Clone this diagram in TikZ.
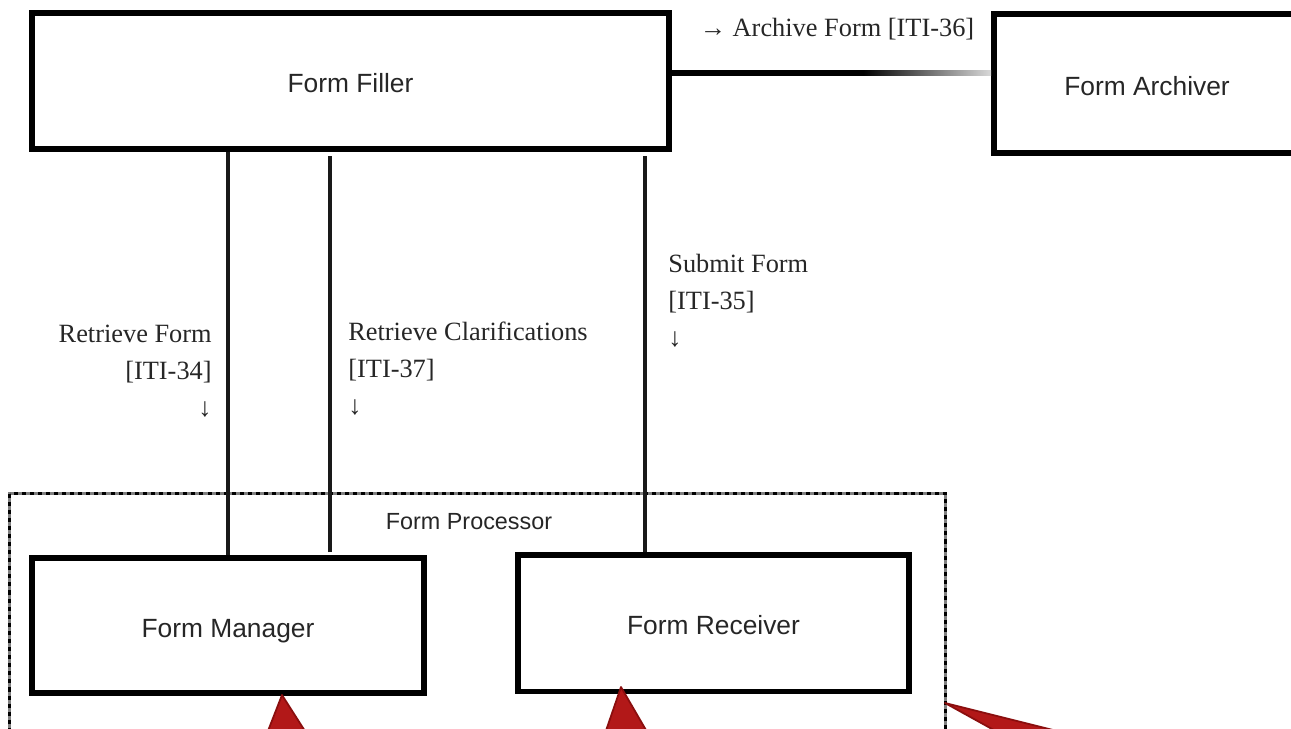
\documentclass[tikz,border=0pt]{standalone}
\usepackage{fontspec}
\setmainfont{Liberation Serif}
\newfontfamily\boxfont{Liberation Sans}
\usetikzlibrary{calc}
\definecolor{calloutred}{RGB}{178,24,24}
\definecolor{calloutedge}{RGB}{138,14,14}
\pgfdeclarehorizontalshading{archfade}{100bp}{color(0bp)=(black); color(25bp)=(black); color(55bp)=(black); color(75bp)=(black!15); color(100bp)=(black!15)}

\begin{document}
\begin{tikzpicture}[x=0.02cm, y=-0.02cm,
  actor/.style={draw, line width=3.4pt, font=\boxfont\fontsize{15}{18}\selectfont, text=black!85, text height=15pt, text depth=1.5pt},
  link/.style={line width=2.3pt, black!90},
  edgelabel/.style={inner sep=0pt, font=\fontsize{15}{21}\selectfont, text=black!85},
  callout/.style={fill=calloutred, draw=calloutedge, line width=1pt, line join=round}]
\useasboundingbox (0,0) rectangle (1291,728);
\clip (0,0) rectangle (1291,728);

% Draw the actors
\node (filler) [actor, minimum width=12.74cm, minimum height=2.72cm] at (350.5,81) {Form Filler};
\node (archiver) [actor, minimum width=6.12cm, minimum height=2.78cm] at (1147,83.5) {Form Archiver};
\node (manager) [actor, minimum width=7.84cm, minimum height=2.7cm] at (228,625.5) {Form Manager};
\node (receiver) [actor, minimum width=7.84cm, minimum height=2.74cm] at (713.5,623) {Form Receiver};

% Draw the grouping box
\draw[gray, line width=1.7pt] (9.5,493.5) rectangle (945.5,790);
\draw[black, line width=1.7pt, dash pattern=on 2.3pt off 2.3pt] (9.5,493.5) rectangle (945.5,790);
\node (processor) [font=\boxfont\fontsize{13.3}{16}\selectfont, text=black!85] at (469,522) {Form Processor};

% Draw the transactions
\draw[link] (manager.north) -- (manager.north |- filler.south);
\draw[link, shorten <=1.7pt, shorten >=2.3pt] ($(manager.north)+(102,0)$) -- ($(manager.north |- filler.south)+(102,0)$);
\draw[link, shorten >=2.3pt] ($(receiver.north)+(-68.5,0)$) -- ($(receiver.north |- filler.south)+(-68.5,0)$);
\shade[shading=archfade] ($(filler.east)+(0,-10.5)$) rectangle ($(archiver.west |- filler.east)+(0,-5.5)$);
\path ($(filler.east)+(0,-8)$) -- ($(archiver.west |- filler.east)+(0,-8)$)
  node (lblArchive) [edgelabel, midway, above=0.66cm, xshift=0.11cm] {→ Archive Form [ITI-36]};

% Transaction labels
\node (lblRetrieve) [edgelabel, anchor=north east, align=right] at (212,325) {Retrieve Form\\{}[ITI-34]\\↓};
\node (lblClarify) [edgelabel, anchor=north west, align=left] at (348,322) {Retrieve Clarifications\\{}[ITI-37]\\↓};
\node (lblSubmit) [edgelabel, anchor=north west, align=left] at (668,254) {Submit Form\\{}[ITI-35]\\↓};

% Draw the callout pointers
\path[callout] (282,695) -- (241,800) -- (349,800) -- cycle;
\path[callout] (621,687) -- (589,780) -- (675,780) -- cycle;
\path[callout] (945,703) -- (1173,760) -- (1048,760) -- cycle;
\end{tikzpicture}
\end{document}
